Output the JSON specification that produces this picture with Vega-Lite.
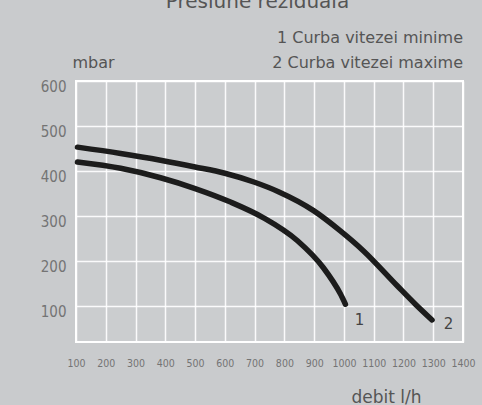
{
  "$schema": "https://vega.github.io/schema/vega-lite/v6.json",
  "autosize": {"type": "none"},
  "width": 387,
  "height": 261,
  "padding": {"left": 76, "top": 81, "right": 19, "bottom": 63},
  "background": "#c9cbcd",
  "title": {
    "text": "Presiune reziduala",
    "frame": "group",
    "anchor": "middle",
    "dx": -12,
    "baseline": "middle",
    "offset": 8,
    "fontSize": 20,
    "font": "DejaVu Sans",
    "fontWeight": "normal",
    "color": "#555555"
  },
  "config": {
    "view": {"fill": "#cbcdcf", "stroke": "#ffffff", "strokeWidth": 2},
    "axis": {"gridColor": "#ffffff", "gridOpacity": 0.9, "gridWidth": 1.5, "domain": false, "ticks": false}
  },
  "datasets": {
    "curves": [
      {"debit": 105, "mbar": 453, "curba": "2"},
      {"debit": 250, "mbar": 439, "curba": "2"},
      {"debit": 384, "mbar": 424, "curba": "2"},
      {"debit": 500, "mbar": 409, "curba": "2"},
      {"debit": 600, "mbar": 395, "curba": "2"},
      {"debit": 700, "mbar": 375, "curba": "2"},
      {"debit": 780, "mbar": 354, "curba": "2"},
      {"debit": 898, "mbar": 312, "curba": "2"},
      {"debit": 988, "mbar": 267, "curba": "2"},
      {"debit": 1065, "mbar": 223, "curba": "2"},
      {"debit": 1179, "mbar": 145, "curba": "2"},
      {"debit": 1240, "mbar": 104, "curba": "2"},
      {"debit": 1296, "mbar": 69, "curba": "2"},
      {"debit": 105, "mbar": 420, "curba": "1"},
      {"debit": 250, "mbar": 406, "curba": "1"},
      {"debit": 384, "mbar": 385, "curba": "1"},
      {"debit": 500, "mbar": 361, "curba": "1"},
      {"debit": 619, "mbar": 331, "curba": "1"},
      {"debit": 730, "mbar": 296, "curba": "1"},
      {"debit": 844, "mbar": 245, "curba": "1"},
      {"debit": 931, "mbar": 185, "curba": "1"},
      {"debit": 988, "mbar": 127, "curba": "1"},
      {"debit": 1005, "mbar": 104, "curba": "1"}
    ],
    "endLabels": [
      {"debit": 1052, "mbar": 68, "label": "1"},
      {"debit": 1351, "mbar": 61, "label": "2"}
    ],
    "legendText": [
      {"debit": 1400, "mbar": 695, "label": "1 Curba vitezei minime"},
      {"debit": 1400, "mbar": 640, "label": "2 Curba vitezei maxime"}
    ]
  },
  "encoding": {
    "x": {
      "field": "debit", "type": "quantitative",
      "scale": {"domain": [100, 1400], "nice": false, "zero": false},
      "axis": {
        "values": [100, 200, 300, 400, 500, 600, 700, 800, 900, 1000, 1100, 1200, 1300, 1400],
        "format": "d",
        "labelFont": "DejaVu Sans Condensed", "labelFontSize": 10.5, "labelColor": "#747474",
        "labelBaseline": "middle", "labelPadding": 21, "labelFlush": false, "labelOverlap": false, "labelBound": false,
        "title": "debit l/h", "titleFont": "DejaVu Sans", "titleFontSize": 17, "titleFontWeight": "normal",
        "titleColor": "#555555", "titleX": 310, "titleY": 55, "titleBaseline": "middle", "titleAlign": "center"
      }
    },
    "y": {
      "field": "mbar", "type": "quantitative",
      "scale": {"domain": [20, 600], "nice": false, "zero": false},
      "axis": {
        "values": [100, 200, 300, 400, 500, 600],
        "labelFont": "DejaVu Sans Condensed", "labelFontSize": 15, "labelColor": "#747474",
        "labelPadding": 10, "labelOffset": 5, "labelFlush": false, "labelOverlap": false,
        "title": "mbar", "titleAngle": 0, "titleFont": "DejaVu Sans", "titleFontSize": 16, "titleFontWeight": "normal",
        "titleColor": "#555555", "titleX": -4, "titleY": -19, "titleAlign": "left", "titleBaseline": "middle"
      }
    }
  },
  "layer": [
    {
      "data": {"name": "curves"},
      "mark": {"type": "line", "interpolate": "monotone", "strokeWidth": 5.5, "strokeCap": "round", "color": "#1c1c1c"},
      "encoding": {
        "detail": {"field": "curba", "type": "nominal"}
      }
    },
    {
      "data": {"name": "endLabels"},
      "mark": {"type": "text", "font": "DejaVu Sans", "fontSize": 15, "color": "#444444", "baseline": "middle", "align": "center", "clip": false},
      "encoding": {
        "text": {"field": "label"}
      }
    },
    {
      "data": {"name": "legendText"},
      "mark": {"type": "text", "font": "DejaVu Sans", "fontSize": 16, "color": "#555555", "baseline": "middle", "align": "right", "clip": false},
      "encoding": {
        "text": {"field": "label"}
      }
    }
  ]
}
